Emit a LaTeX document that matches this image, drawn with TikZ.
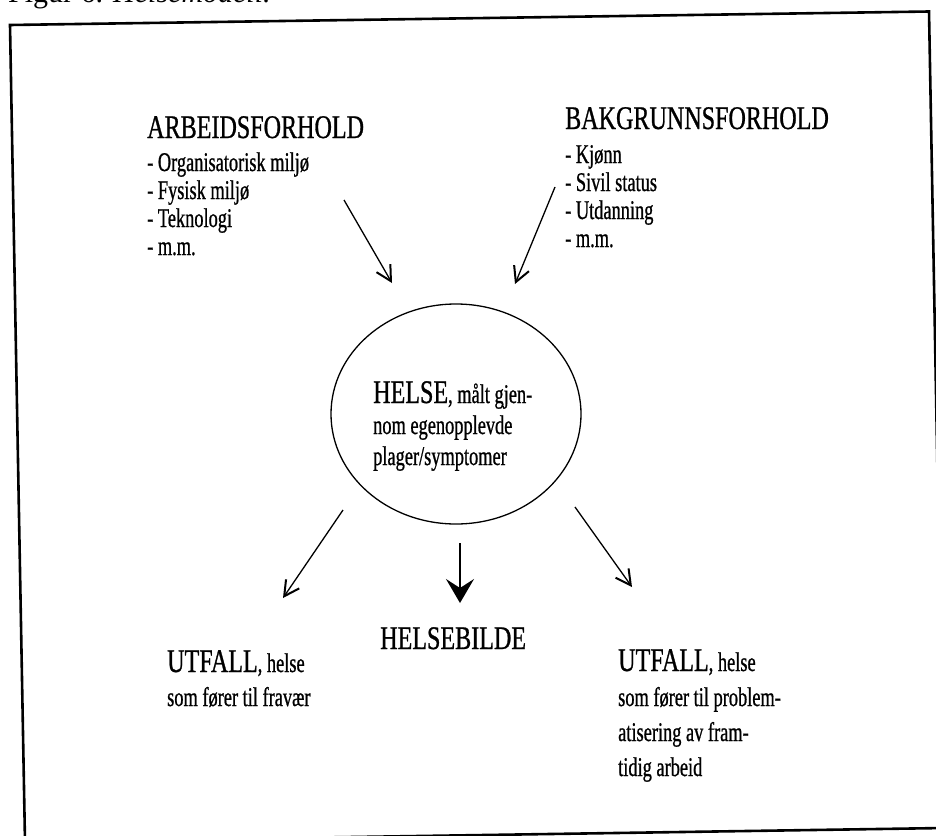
\documentclass[tikz,border=0pt]{standalone}
\usepackage{fontspec}
\setmainfont[FakeStretch=0.68, FakeBold=0.8]{Liberation Serif}
\newfontfamily\headfamily[FakeStretch=0.73, FakeBold=0.8]{Liberation Serif}
\newfontfamily\capfont{Liberation Serif}
\usetikzlibrary{shapes, positioning, arrows.meta}
\newcommand{\headsize}{\headfamily\fontsize{33}{36}\selectfont}
\newcommand{\bodysize}{\fontsize{27}{28}\selectfont}

\begin{document}
\begin{tikzpicture}[x=1pt, y=-1pt,
    heading/.style={font=\headsize, 
      inner sep=0pt, 
      anchor=base west},
    items/.style={font=\bodysize, 
      inner sep=0pt, 
      align=left, 
      anchor=base west},
    flow/.style={line width=1.3pt, 
      -{Straight Barb[length=15pt, width=16pt, line width=2pt]}},
    mainflow/.style={line width=1.6pt, 
      -{Stealth[length=24pt, width=28pt, inset=9pt]}}]
  \useasboundingbox (0,0) rectangle (936,835);

  % CAPTION AND FRAME

  \node [inner sep=0pt, 
    anchor=base west, 
    font=\capfont\fontsize{30}{34}\selectfont] (caption) at (8,2) 
    {Figur 6. \textit{Helsemodell.}};

  \draw[line width=2.6pt] (10,25) -- (929,11.5) -- (944,828) -- (25,842) -- cycle;

  % FACTORS (base of a list = its last line)

  \node [heading] (arbeidtitle) at (147,138) {ARBEIDSFORHOLD};

  \node [items, 
    below=117pt of arbeidtitle.base west, 
    anchor=base west] (arbeid){%
    - Organisatorisk miljø\\
    - Fysisk miljø\\
    - Teknologi\\
    - m.m.
  };

  \node [heading] (bakgrunntitle) at (565,129) {BAKGRUNNSFORHOLD};

  \node [items, 
    below=118pt of bakgrunntitle.base west, 
    anchor=base west] (bakgrunn){%
    - Kjønn\\
    - Sivil status\\
    - Utdanning\\
    - m.m.
  };

  % HEALTH

  \node [draw, 
    ellipse, 
    line width=1.3pt, 
    inner sep=0pt, 
    minimum width=250pt, 
    minimum height=220pt] (helse) at (456,414) {};

  \node [items, 
    font=\fontsize{27}{31}\selectfont] (helsetext) at (373,465){%
    {\headsize HELSE}, målt gjen-\\
    nom egenopplevde\\
    plager/symptomer
  };

  % OUTCOMES

  \node [heading] (bilde) at (380,649) {HELSEBILDE};

  \node [items, 
    font=\fontsize{27}{34}\selectfont] (fravaer) at (167,706){%
    {\headsize UTFALL}, helse\\
    som fører til fravær
  };

  \node [items, 
    font=\fontsize{27}{35}\selectfont] (framtid) at (618,776){%
    {\headsize UTFALL}, helse\\
    som fører til problem-\\
    atisering av fram-\\
    tidig arbeid
  };

  % ARROWS

  \coordinate (arbeidfrom) at (344,200);
  \coordinate (arbeidto) at (392,283);
  \coordinate (bakgrunnfrom) at (555,187);
  \coordinate (bakgrunnto) at (515,284);
  \coordinate (fravaerfrom) at (343,510);
  \coordinate (fravaerto) at (283,598);
  \coordinate (bildefrom) at (460,543);
  \coordinate (bildeto) at (460,603);
  \coordinate (framtidfrom) at (575,507);
  \coordinate (framtidto) at (632,587);

  \draw[flow] (arbeidfrom) -- (arbeidto);
  \draw[flow] (bakgrunnfrom) -- (bakgrunnto);
  \draw[flow] (fravaerfrom) -- (fravaerto);
  \draw[mainflow] (bildefrom) -- (bildeto);
  \draw[flow] (framtidfrom) -- (framtidto);

\end{tikzpicture}
\end{document}
